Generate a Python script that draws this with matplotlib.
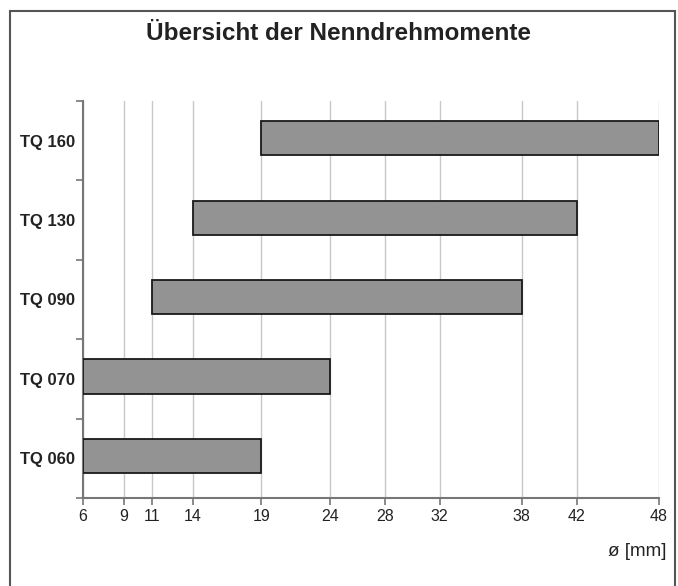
import numpy as np
import matplotlib.pyplot as plt
from matplotlib.patches import Rectangle

plt.rcParams['font.family'] = ['Liberation Sans', 'DejaVu Sans']

# Data
categories = ["TQ 060", "TQ 070", "TQ 090", "TQ 130", "TQ 160"]
d_min = [6, 6, 11, 14, 19]
d_max = [19, 24, 38, 42, 48]
x_ticks = [6, 9, 11, 14, 19, 24, 28, 32, 38, 42, 48]

fig = plt.figure(figsize=(6.78, 5.86), dpi=100)
ax = fig.add_axes([83 / 678, 1 - 498 / 586, (659 - 83) / 678, (498 - 101) / 586])

y = np.arange(len(categories))
widths = np.array(d_max) - np.array(d_min)
# bars sit a touch above the label centre in the original
ax.barh(y + 0.03, widths, left=d_min, height=0.43, color='#939393',
        edgecolor='#1a1a1a', linewidth=1.3, zorder=3)

ax.set_xlim(6, 48)
ax.set_ylim(-0.5, len(categories) - 0.5)
ax.set_xticks(x_ticks)
ax.set_xticklabels([str(t) for t in x_ticks], fontsize=11.5, color='#222222')
ax.set_yticks(y)
ax.set_yticklabels(categories, fontsize=12, fontweight='bold', color='#222222')
ax.tick_params(axis='y', length=0, pad=6)
ax.set_yticks(np.arange(-0.5, len(categories)), minor=True)
ax.tick_params(axis='y', which='minor', length=5, color='#777777', width=1.2)
ax.tick_params(axis='x', length=5, color='#777777', width=1.2, pad=3)

ax.grid(axis='x', color='#c8c8c8', linewidth=1, zorder=0)
for s in ['top', 'right']:
    ax.spines[s].set_visible(False)
for s in ['left', 'bottom']:
    ax.spines[s].set_color('#777777')
    ax.spines[s].set_linewidth(1.5)

fig.text(0.5, 1 - 33 / 586, "Übersicht der Nenndrehmomente", ha='center', va='center',
         fontsize=17.5, fontweight='bold', color='#222222')
fig.text(667 / 678, 1 - 551 / 586, "ø [mm]", ha='right', va='center', fontsize=13.5,
         color='#222222')

# outer frame
fig.patches.append(Rectangle((10 / 678, -0.05), (675 - 10) / 678, 1.05 - 11 / 586,
                             transform=fig.transFigure, fill=False,
                             edgecolor='#555555', linewidth=1.5))

fig.savefig("out.png", dpi=100)
